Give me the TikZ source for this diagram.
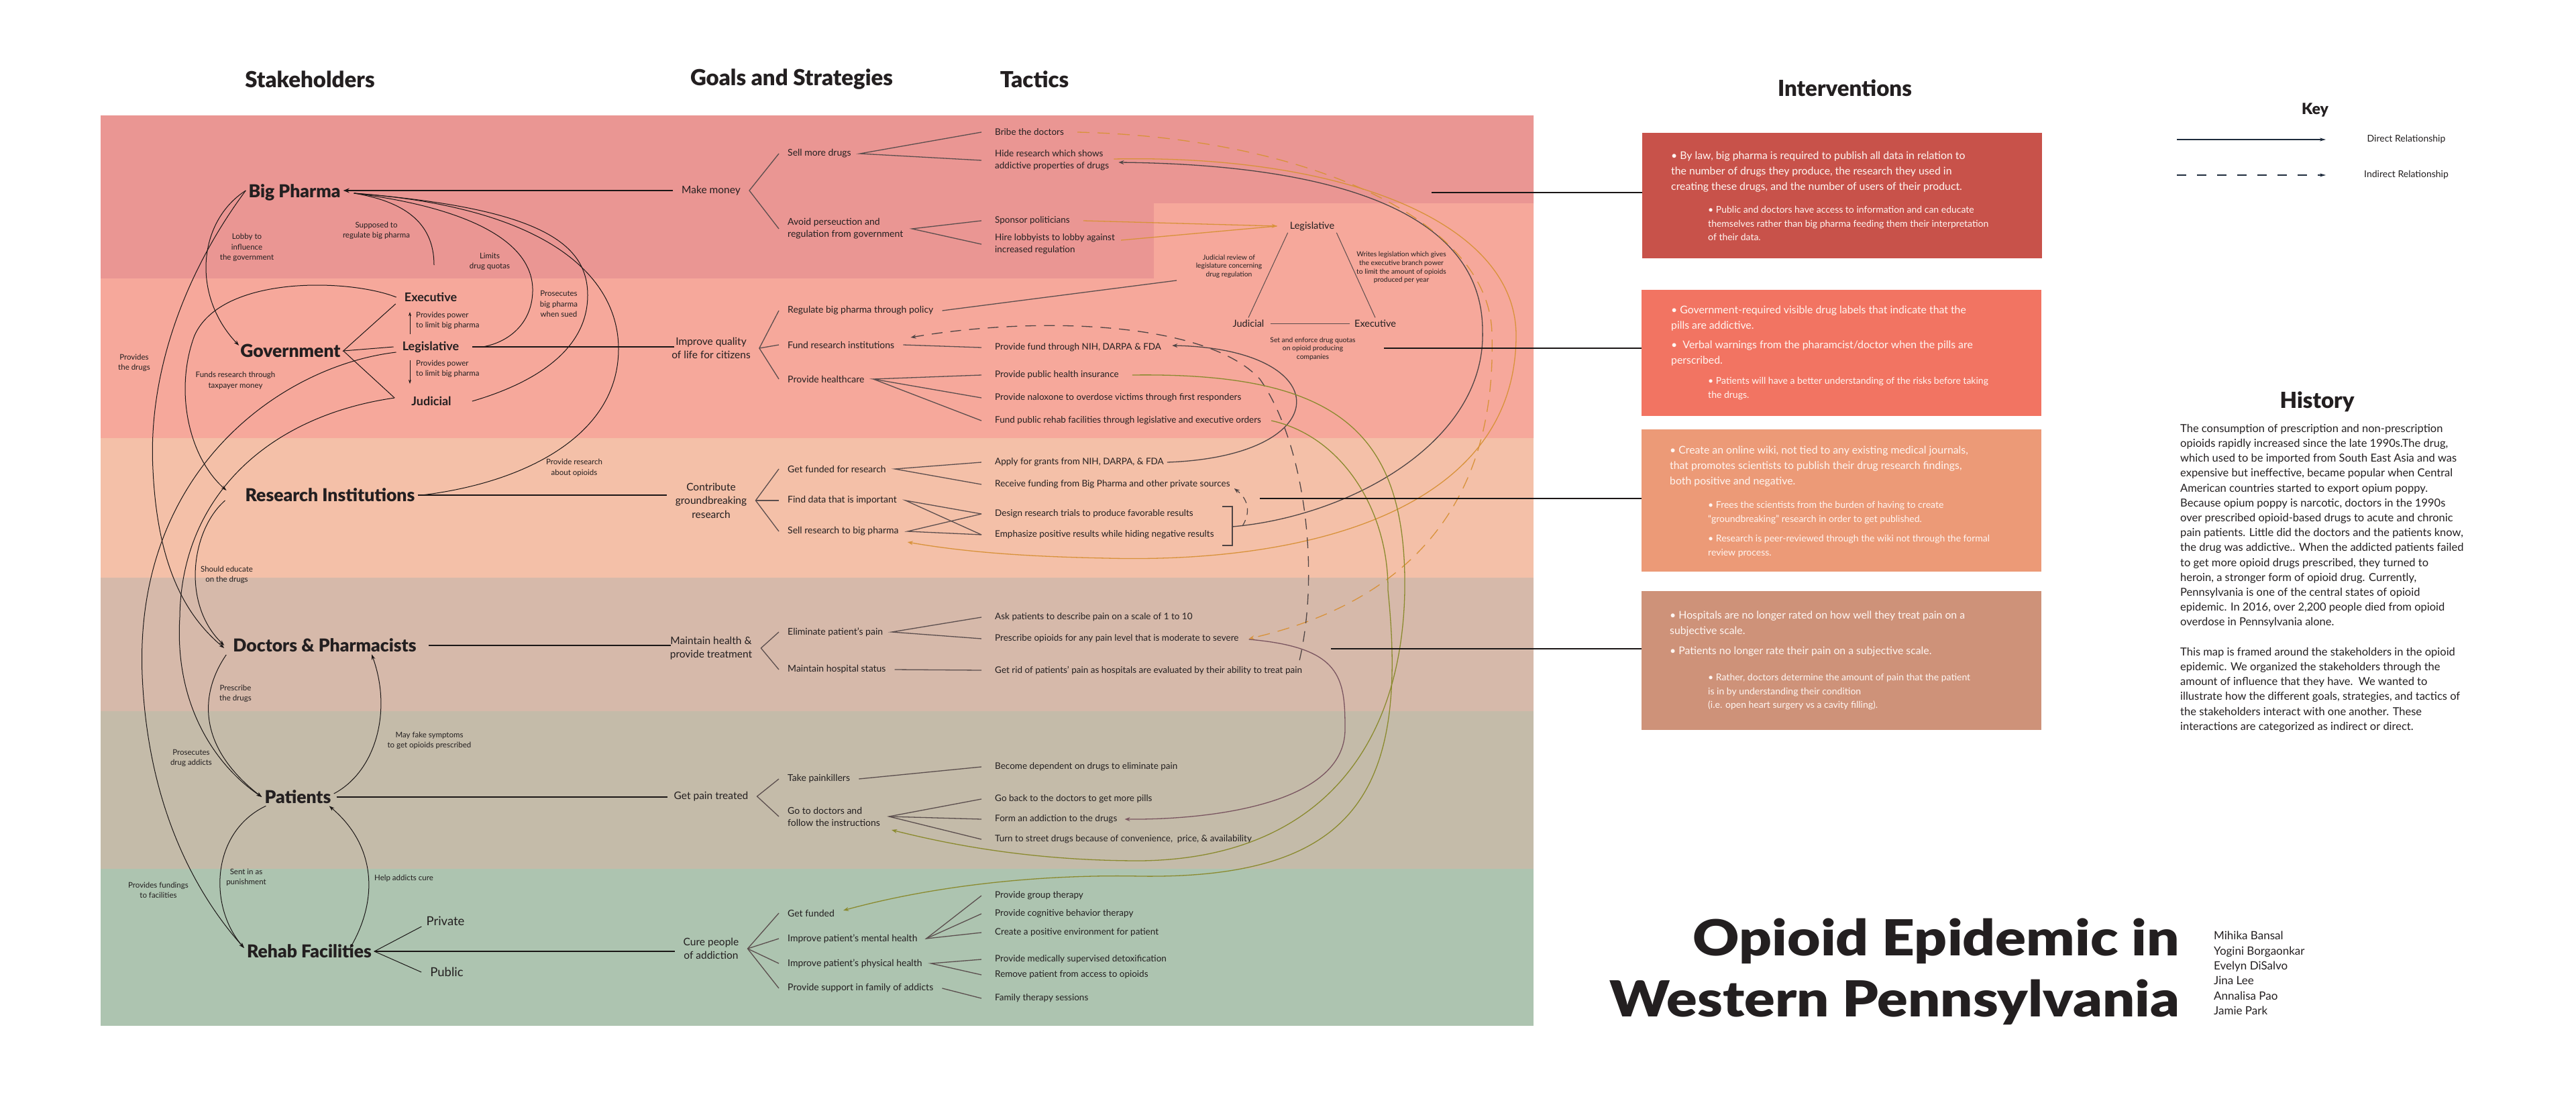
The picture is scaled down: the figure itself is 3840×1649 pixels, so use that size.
\documentclass[tikz,border=0pt]{standalone}
\usepackage{graphicx}
\usepackage{fontspec}
\setmainfont{Lato}
\IfFontExistsTF{Lato Black}{\newfontfamily\blackfont{Lato Black}}{\newcommand\blackfont{\bfseries}}
\usetikzlibrary{arrows.meta}
\definecolor{bandA}{HTML}{EA9693}
\definecolor{bandB}{HTML}{F6A89B}
\definecolor{bandC}{HTML}{F4C0A8}
\definecolor{bandD}{HTML}{D6B9AA}
\definecolor{bandE}{HTML}{C4BBA9}
\definecolor{bandF}{HTML}{ADC4B0}
\definecolor{boxA}{HTML}{C8524A}
\definecolor{boxB}{HTML}{F27462}
\definecolor{boxC}{HTML}{EC9A77}
\definecolor{boxD}{HTML}{CE9279}
\definecolor{txt}{HTML}{231F20}
\definecolor{fanc}{HTML}{5B4E4E}
\definecolor{relc}{HTML}{1A1616}
\definecolor{orangec}{HTML}{D8923A}
\definecolor{olivec}{HTML}{8A8A2E}
\definecolor{mauvec}{HTML}{7A5560}
\definecolor{grayc}{HTML}{4F4545}
\definecolor{navyc}{HTML}{1E2B3C}
\definecolor{boxtxt}{HTML}{FFF6F2}
\begin{document}
\begin{tikzpicture}[x=1pt,y=-1pt,
  every node/.style={text=txt, inner sep=0pt},
  hdr/.style={font=\blackfont\fontsize{33}{38}\selectfont},
  sh/.style={font=\blackfont\fontsize{26.5}{30}\selectfont, inner xsep=4pt, inner ysep=3pt},
  shsub/.style={font=\bfseries\fontsize{18}{21}\selectfont, inner sep=3pt},
  shopt/.style={font=\fontsize{18.5}{21}\selectfont, inner sep=3pt},
  goal/.style={font=\fontsize{15.5}{20.5}\selectfont, align=center, inner xsep=13pt},
  strat/.style={font=\fontsize{14}{17.8}\selectfont, align=left, anchor=west, inner xsep=13pt},
  tac/.style={font=\fontsize{13.5}{18}\selectfont, align=left, anchor=west, inner xsep=20pt},
  lbl/.style={font=\fontsize{11.5}{15.5}\selectfont, align=center},
  tri/.style={font=\fontsize{14.5}{17}\selectfont, inner sep=3pt},
  tlbl/.style={font=\fontsize{10.3}{12.7}\selectfont, align=center},
  ivmain/.style={font=\fontsize{15.8}{23}\selectfont, align=left, anchor=north west, text=boxtxt},
  ivsub/.style={font=\fontsize{14}{20.5}\selectfont, align=left, anchor=north west, text=boxtxt},
  ivbox/.style={minimum width=596pt, inner sep=0pt},
  keyl/.style={font=\fontsize{14}{16}\selectfont},
  titl/.style={anchor=east, font=\blackfont\fontsize{74}{80}\selectfont},
  fan/.style={draw=fanc, line width=1.3pt},
  rel/.style={draw=relc, line width=1pt},
  relarr/.style={rel, -{Stealth[length=8pt,width=5.5pt]}},
  smallarr/.style={rel, -{Stealth[length=6pt,width=4pt]}},
  sgl/.style={draw=relc, line width=2.4pt},
  arrtip/.style={-{Stealth[length=9pt,width=7pt]}},
  arrtipS/.style={-{Stealth[length=8pt,width=6pt]}},
  cline/.style={line width=1.3pt},
]
\path[use as bounding box] (0,0) rectangle (3840,1649);
\fill[white] (0,0) rectangle (3840,1649);

% bands
\fill[bandA] (150,172) -- (2286,172) -- (2286,303) -- (1720,303) -- (1720,415) -- (150,415) -- cycle;
\fill[bandB] (150,415) -- (1720,415) -- (1720,303) -- (2286,303) -- (2286,653) -- (150,653) -- cycle;
\fill[bandC] (150,653) rectangle (2286,861);
\fill[bandD] (150,861) rectangle (2286,1060);
\fill[bandE] (150,1060) rectangle (2286,1295);
\fill[bandF] (150,1295) rectangle (2286,1529);

% headers
\node[hdr] (hS) at (462,118) {Stakeholders};
\node[hdr] (hG) at (1180,118) {Goals and Strategies};
\node[hdr] (hT) at (1542,118) {Tactics};
\node[hdr] (hI) at (2750,131) {Interventions};
\node[hdr, font=\blackfont\fontsize{23}{26}\selectfont] (hK) at (3451,164) {Key};
\node[hdr] (hH) at (3454,599) {History};

% stakeholders
\node[sh] (bp) at (439,287) {Big Pharma};
\node[sh] (gov) at (433,523) {Government};
\node[shsub] (exe) at (642,443) {Executive};
\node[shsub] (leg) at (642,517) {Legislative};
\node[shsub] (jud) at (643,598) {Judicial};
\node[sh] (ri) at (492,738) {Research Institutions};
\node[sh] (dp) at (484,962) {Doctors \& Pharmacists};
\node[sh] (pat) at (444,1188) {Patients};
\node[sh] (rehab) at (461,1418) {Rehab Facilities};
\node[shopt] (priv) at (664,1373) {Private};
\node[shopt] (pub) at (666,1449) {Public};

% goals
\node[goal] (mm) at (1060,284) {Make money};
\node[goal] (iq) at (1060,519) {Improve quality\\of life for citizens};
\node[goal] (cg) at (1060,746) {Contribute\\groundbreaking\\research};
\node[goal] (mh) at (1060,966) {Maintain health \&\\provide treatment};
\node[goal] (gp) at (1060,1187) {Get pain treated};
\node[goal] (cp) at (1060,1414) {Cure people\\of addiction};

% strategies
\node[strat] (sSell) at (1161,229) {Sell more drugs};
\node[strat] (sAvoid) at (1161,341) {Avoid perseuction and\\regulation from government};
\node[strat] (sReg) at (1161,463) {Regulate big pharma through policy};
\node[strat] (sFund) at (1161,514) {Fund research institutions};
\node[strat] (sHC) at (1161,565) {Provide healthcare};
\node[strat] (sGetF) at (1161,699) {Get funded for research};
\node[strat] (sFind) at (1161,746) {Find data that is important};
\node[strat] (sSellR) at (1161,792) {Sell research to big pharma};
\node[strat] (sElim) at (1161,942) {Eliminate patient’s pain};
\node[strat] (sHosp) at (1161,998) {Maintain hospital status};
\node[strat] (sTake) at (1161,1161) {Take painkillers};
\node[strat] (sGo) at (1161,1217) {Go to doctors and\\follow the instructions};
\node[strat] (sFunded) at (1161,1361) {Get funded};
\node[strat] (sMental) at (1161,1399) {Improve patient’s mental health};
\node[strat] (sPhys) at (1161,1436) {Improve patient’s physical health};
\node[strat] (sFam) at (1161,1473) {Provide support in family of addicts};

% tactics
\node[tac] (tBribe) at (1463,197) {Bribe the doctors};
\node[tac] (tHide) at (1463,239) {Hide research which shows\\addictive properties of drugs};
\node[tac] (tSpons) at (1463,329) {Sponsor politicians};
\node[tac] (tHire) at (1463,364) {Hire lobbyists to lobby against\\increased regulation};
\node[tac] (tNIH) at (1463,518) {Provide fund through NIH, DARPA \& FDA};
\node[tac] (tIns) at (1463,559) {Provide public health insurance};
\node[tac] (tNal) at (1463,593) {Provide naloxone to overdose victims through first responders};
\node[tac] (tRehF) at (1463,627) {Fund public rehab facilities through legislative and executive orders};
\node[tac] (tApply) at (1463,689) {Apply for grants from NIH, DARPA, \& FDA};
\node[tac] (tRecv) at (1463,722) {Receive funding from Big Pharma and other private sources};
\node[tac] (tDesign) at (1463,766) {Design research trials to produce favorable results};
\node[tac] (tEmph) at (1463,797) {Emphasize positive results while hiding negative results};
\node[tac] (tAsk) at (1463,920) {Ask patients to describe pain on a scale of 1 to 10};
\node[tac] (tPresc) at (1463,952) {Prescribe opioids for any pain level that is moderate to severe};
\node[tac] (tRid) at (1463,999) {Get rid of patients’ pain as hospitals are evaluated by their ability to treat pain};
\node[tac] (tDep) at (1463,1143) {Become dependent on drugs to eliminate pain};
\node[tac] (tBack) at (1463,1191) {Go back to the doctors to get more pills};
\node[tac] (tForm) at (1463,1221) {Form an addiction to the drugs};
\node[tac] (tStreet) at (1463,1251) {Turn to street drugs because of convenience,\ \ price, \& availability};
\node[tac] (tGroup) at (1463,1335) {Provide group therapy};
\node[tac] (tCBT) at (1463,1362) {Provide cognitive behavior therapy};
\node[tac] (tEnv) at (1463,1390) {Create a positive environment for patient};
\node[tac] (tDetox) at (1463,1430) {Provide medically supervised detoxification};
\node[tac] (tRemove) at (1463,1453) {Remove patient from access to opioids};
\node[tac] (tFamT) at (1463,1488) {Family therapy sessions};

% fans
\draw[fan] (sSell.west) -- (mm.east) -- (sAvoid.west);
\draw[fan] (tBribe.west) -- (sSell.east) -- (tHide.west);
\draw[fan] (tSpons.west) -- (sAvoid.east) -- (tHire.west);
\draw[fan] (sReg.west) -- (iq.east) -- (sHC.west);
\draw[fan] (iq.east) -- (sFund.west);
\draw[fan] (sFund.east) -- (tNIH.west);
\draw[fan] (tIns.west) -- (sHC.east) -- (tNal.west);
\draw[fan] (sHC.east) -- (tRehF.west);
\draw[fan] (sGetF.west) -- (cg.east) -- (sSellR.west);
\draw[fan] (cg.east) -- (sFind.west);
\draw[fan] (tApply.west) -- (sGetF.east) -- (tRecv.west);
\draw[fan] (tDesign.west) -- (sFind.east) -- (tEmph.west);
\draw[fan] (tDesign.west) -- (sSellR.east) -- (tEmph.west);
\draw[fan] (sElim.west) -- (mh.east) -- (sHosp.west);
\draw[fan] (tAsk.west) -- (sElim.east) -- (tPresc.west);
\draw[fan] (sHosp.east) -- (tRid.west);
\draw[fan] (sTake.west) -- (gp.east) -- (sGo.west);
\draw[fan] (sTake.east) -- (tDep.west);
\draw[fan] (tBack.west) -- (sGo.east) -- (tStreet.west);
\draw[fan] (sGo.east) -- (tForm.west);
\draw[fan] (sFunded.west) -- (cp.east) -- (sFam.west);
\draw[fan] (cp.east) -- (sMental.west);
\draw[fan] (cp.east) -- (sPhys.west);
\draw[fan] (tGroup.west) -- (sMental.east) -- (tEnv.west);
\draw[fan] (sMental.east) -- (tCBT.west);
\draw[fan] (tDetox.west) -- (sPhys.east) -- (tRemove.west);
\draw[fan] (sFam.east) -- (tFamT.west);

% stakeholder to goal lines
\draw[sgl, arrtip] (mm.west) -- (mm.west -| bp.east);
\draw[sgl] ([xshift=17pt]leg.east) -- ([xshift=17pt]leg.east -| iq.west);
\draw[sgl] (ri.east) -- (ri.east -| cg.west);
\draw[sgl] ([xshift=14pt]dp.east) -- ([xshift=14pt]dp.east -| mh.west);
\draw[sgl] ([xshift=4pt]pat.east) -- ([xshift=4pt]pat.east -| gp.west);
\draw[sgl] (rehab.east) -- (rehab.east -| cp.west);

% government chevron and rehab chevron
\draw[rel] ([xshift=-10pt]exe.south west) -- (gov.east) -- ([xshift=-10pt]leg.west);
\draw[rel] (gov.east) -- ([xshift=-22pt,yshift=-5pt]jud.north west);
\draw[rel] ([xshift=-4pt,yshift=-8pt]priv.west) -- (rehab.east) -- ([xshift=-10pt]pub.west);
\draw[smallarr] ([xshift=-31pt,yshift=7pt]leg.north) -- ([xshift=-31pt,yshift=-12pt]exe.south);
\draw[smallarr] ([xshift=-31pt,yshift=-8pt]leg.south) -- ([xshift=-32pt,yshift=16pt]jud.north);

% stakeholder relations
\coordinate (bpR) at ([xshift=16pt,yshift=-1pt]bp.east);
\coordinate (bpL) at ([yshift=3pt]bp.west);
\coordinate (supEnd) at (647,395);
\draw[rel] (bpR) .. controls (600,300) and (647,330) .. (supEnd);
\draw[rel] (bpR) .. controls (700,310) and (792,360) .. (794,430) .. controls (795,480) and (760,510) .. ([xshift=32pt]leg.east);
\draw[rel] (bpR) .. controls (800,310) and (876,360) .. (876,440) .. controls (876,520) and (800,570) .. ([xshift=28pt]jud.east);
\draw[rel] (bpR) .. controls (830,310) and (922,420) .. (922,520) .. controls (922,650) and (780,720) .. ([xshift=6pt]ri.east);
\draw[relarr] (bpL) .. controls (295,330) and (285,440) .. ([xshift=2pt,yshift=-5pt]gov.north west);
\draw[relarr] (bpL) .. controls (280,400) and (220,550) .. (228,700) .. controls (235,850) and (280,920) .. ([xshift=-9pt,yshift=-4pt]dp.west);
\draw[relarr] ([xshift=-9pt]exe.west) .. controls (520,415) and (330,410) .. (290,500) .. controls (260,580) and (280,680) .. ([xshift=-24pt,yshift=7pt]ri.west);
\draw[relarr] ([xshift=-6pt,yshift=-8pt]leg.west) .. controls (420,545) and (200,700) .. (212,1006) .. controls (220,1200) and (290,1330) .. ([yshift=5pt]rehab.west);
\draw[relarr] ([xshift=-22pt,yshift=-5pt]jud.north west) .. controls (400,620) and (270,740) .. (268,920) .. controls (260,1050) and (320,1140) .. (pat.west);
\draw[relarr] ([xshift=-26pt,yshift=-8pt]ri.west) .. controls (285,790) and (270,900) .. ([xshift=-9pt]dp.west);
\draw[relarr] ([xshift=-6pt,yshift=-14pt]dp.west) .. controls (300,1030) and (290,1110) .. (pat.west);
\draw[relarr] ([yshift=5pt]pat.east) .. controls (560,1150) and (585,1060) .. ([xshift=70pt]dp.south);
\draw[relarr] ([xshift=6pt]pat.south west) .. controls (315,1240) and (310,1350) .. ([yshift=5pt]rehab.west);
\draw[relarr] ([xshift=-36pt,yshift=-8pt]rehab.north east) .. controls (565,1340) and (560,1260) .. ([xshift=-7pt]pat.south east);

% stakeholder labels
\node[lbl] (lLobby) at (368,369) {Lobby to\\influence\\the government};
\node[lbl] (lSup) at (561,344) {Supposed to\\regulate big pharma};
\node[lbl] (lLim) at (730,390) {Limits\\drug quotas};
\node[lbl] (lPros) at (833,453) {Prosecutes\\big pharma\\when sued};
\node[lbl, anchor=west, align=left] (lPow1) at (620,478) {Provides power\\to limit big pharma};
\node[lbl, anchor=west, align=left] (lPow2) at (620,550) {Provides power\\to limit big pharma};
\node[lbl] (lDrugs) at (200,541) {Provides\\the drugs};
\node[lbl] (lFunds) at (351,567) {Funds research through\\taxpayer money};
\node[lbl] (lProvR) at (856,697) {Provide research\\about opioids};
\node[lbl] (lEdu) at (338,857) {Should educate\\on the drugs};
\node[lbl] (lPresc) at (351,1034) {Prescribe\\the drugs};
\node[lbl] (lFake) at (640,1104) {May fake symptoms\\to get opioids prescribed};
\node[lbl] (lProsA) at (285,1130) {Prosecutes\\drug addicts};
\node[lbl] (lSent) at (367,1308) {Sent in as\\punishment};
\node[lbl] (lHelp) at (602,1309) {Help addicts cure};
\node[lbl] (lFundF) at (236,1327) {Provides fundings\\to facilities};

% branch triangle
\node[tri] (L2) at (1956,337) {Legislative};
\node[tri] (J2) at (1861,482) {Judicial};
\node[tri] (E2) at (2050,482) {Executive};
\draw[fan, line width=1pt] (L2.south west) -- (J2.north);
\draw[fan, line width=1pt] (L2.south east) -- (E2.north);
\draw[fan, line width=1pt] ([xshift=6pt]J2.east) -- ([xshift=-4pt]E2.west);
\node[tlbl] (lRev) at (1832,397) {Judicial review of\\legislature concerning\\drug regulation};
\node[tlbl] (lWri) at (2089,399) {Writes legislation which gives\\the executive branch power\\to limit the amount of opioids\\produced per year};
\node[tlbl] (lSet) at (1957,520) {Set and enforce drug quotas\\on opioid producing\\companies};

% tactic connectors
\coordinate (regEnd) at (1754,418);
\draw[fan] (sReg.east) -- (regEnd);
\draw[orangec, cline, arrtipS] (tSpons.east) -- ([xshift=-16pt]L2.west);
\draw[orangec, cline] ([xshift=-11pt,yshift=6pt]tHire.east) -- ([xshift=-16pt]L2.west);
\draw[grayc, line width=1.2pt] (1822,755) -- (1837,755) -- (1837,813) -- (1822,813);
\coordinate (brk) at (1837,785);
\coordinate (brkB) at (1852,784);
\draw[grayc, cline, arrtipS] (brk) .. controls (2010,770) and (2215,660) .. (2210,493) .. controls (2210,300) and (1950,245) .. ([xshift=-6pt,yshift=-3pt]tHide.east);
\draw[orangec, cline, arrtipS] ([xshift=-13pt,yshift=2pt]tHide.east) .. controls (2000,230) and (2260,330) .. (2260,500) .. controls (2260,760) and (1950,840) .. (1650,832) .. controls (1550,830) and (1450,825) .. ([yshift=-16pt]sSellR.east);
\draw[orangec, cline, dash pattern=on 18pt off 12pt, arrtipS] (tBribe.east) .. controls (1950,205) and (2224,330) .. (2224,500) .. controls (2230,720) and (2130,890) .. ([xshift=-5pt]tPresc.east);
\draw[mauvec, cline, arrtipS] ([xshift=-5pt,yshift=-1pt]tPresc.east) .. controls (2000,965) and (2005,1010) .. (2005,1087) .. controls (2005,1200) and (1800,1222) .. ([xshift=-9pt]tForm.east);
\draw[grayc, cline, arrtipS] ([xshift=-15pt]tApply.east) .. controls (1995,680) and (1995,520) .. ([xshift=-4pt,yshift=3pt]tNIH.east);
\draw[grayc, cline, dash pattern=on 16pt off 12pt, arrtipS] ([xshift=-24pt,yshift=15pt]tRid.east) .. controls (1968,850) and (1945,660) .. (1878,565) .. controls (1800,480) and (1550,470) .. ([xshift=11pt,yshift=11pt]sFund.east);
\draw[grayc, line width=1.2pt, dash pattern=on 10pt off 8pt, arrtipS] (brkB) .. controls (1864,765) and (1862,745) .. ([xshift=-14pt,yshift=-6pt]tRecv.east);
\draw[olivec, cline, arrtipS] (tIns.east) .. controls (1990,555) and (2097,640) .. (2094,880) .. controls (2090,1120) and (1960,1280) .. (1700,1283) .. controls (1560,1283) and (1440,1265) .. ([xshift=4pt,yshift=-20pt]sGo.east);
\draw[olivec, cline, arrtipS] ([xshift=-5pt]tRehF.east) .. controls (2000,650) and (2070,760) .. (2069,880) .. controls (2100,1180) and (2020,1310) .. (1700,1306) .. controls (1560,1303) and (1400,1318) .. ([yshift=4pt]sFunded.east);

% interventions
\node[ivbox, fill=boxA, minimum height=187pt] (b1) at (2746,291.5) {};
\node[ivbox, fill=boxB, minimum height=188pt] (b2) at (2745,526) {};
\node[ivbox, fill=boxC, minimum height=212pt] (b3) at (2745,746) {};
\node[ivbox, fill=boxD, minimum height=207pt] (b4) at (2745,984.5) {};
\coordinate (i1) at (2134,287);
\coordinate (i2) at (2063,519);
\coordinate (i3) at (1878,743);
\coordinate (i4) at (1984,967);
\draw[sgl, line width=2.2pt] (i1) -- (i1 -| b1.west);
\draw[sgl, line width=2.2pt] (i2) -- (i2 -| b2.west);
\draw[sgl, line width=2.2pt] (i3) -- (i3 -| b3.west);
\draw[sgl, line width=2.2pt] (i4) -- (i4 -| b4.west);

\node[ivmain] (b1m) at (2491,225.6) {• By law, big pharma is required to publish all data in relation to\\the number of drugs they produce, the research they used in\\creating these drugs, and the number of users of their product.};
\node[ivsub] (b1s) at (2546,307.3) {• Public and doctors have access to information and can educate\\themselves rather than big pharma feeding them their interpretation\\of their data.};
\node[ivmain] (b2a) at (2491,455.6) {• Government-required visible drug labels that indicate that the\\pills are addictive.};
\node[ivmain] (b2b) at (2491,507.6) {•\ \ Verbal warnings from the pharamcist/doctor when the pills are\\perscribed.};
\node[ivsub] (b2s) at (2546,562.3) {• Patients will have a better understanding of the risks before taking\\the drugs.};
\node[ivmain] (b3m) at (2489,664.6) {• Create an online wiki, not tied to any existing medical journals,\\that promotes scientists to publish their drug research findings,\\both positive and negative.};
\node[ivsub] (b3s1) at (2546,747.3) {• Frees the scientists from the burden of having to create\\“groundbreaking” research in order to get published.};
\node[ivsub] (b3s2) at (2546,797.3) {• Research is peer-reviewed through the wiki not through the formal\\review process.};
\node[ivmain] (b4a) at (2489,910.6) {• Hospitals are no longer rated on how well they treat pain on a\\subjective scale.};
\node[ivmain] (b4b) at (2489,963.6) {• Patients no longer rate their pain on a subjective scale.};
\node[ivsub] (b4s) at (2546,1004.3) {• Rather, doctors determine the amount of pain that the patient\\is in by understanding their condition\\(i.e. open heart surgery vs a cavity filling).};

% key
\coordinate (kA1) at (3245,208);
\coordinate (kA2) at (3467,208);
\coordinate (kB1) at (3245,261);
\coordinate (kB2) at (3467,261);
\draw[navyc, line width=1.3pt, -{Stealth[length=9pt,width=5pt]}] (kA1) -- (kA2);
\draw[navyc, line width=1.3pt, dash pattern=on 14pt off 16pt, -{Stealth[length=9pt,width=5pt]}] (kB1) -- (kB2);
\node[keyl] (kD) at (3587,208) {Direct Relationship};
\node[keyl] (kI) at (3587,261) {Indirect Relationship};

% history
\node[anchor=north west, align=left, font=\fontsize{16.5}{22.2}\selectfont] (hist) at (3250,632) {The consumption of prescription and non-prescription\\opioids rapidly increased since the late 1990s.The drug,\\which used to be imported from South East Asia and was\\expensive but ineffective, became popular when Central\\American countries started to export opium poppy.\\Because opium poppy is narcotic, doctors in the 1990s\\over prescribed opioid-based drugs to acute and chronic\\pain patients. Little did the doctors and the patients know,\\the drug was addictive.. When the addicted patients failed\\to get more opioid drugs prescribed, they turned to\\heroin, a stronger form of opioid drug. Currently,\\Pennsylvania is one of the central states of opioid\\epidemic. In 2016, over 2,200 people died from opioid\\overdose in Pennsylvania alone.\\[22.2pt]This map is framed around the stakeholders in the opioid\\epidemic. We organized the stakeholders through the\\amount of influence that they have.\ \ We wanted to\\illustrate how the different goals, strategies, and tactics of\\the stakeholders interact with one another. These\\interactions are categorized as indirect or direct.};

% title and names
\node[titl] (t1) at (3249,1403) {\resizebox{725pt}{\height}{Opioid Epidemic in}};
\node[titl] (t2) at (3249,1494) {\resizebox{849pt}{\height}{Western Pennsylvania}};
\node[anchor=north west, align=left, font=\fontsize{17}{22.4}\selectfont] (names) at (3300,1388) {Mihika Bansal\\Yogini Borgaonkar\\Evelyn DiSalvo\\Jina Lee\\Annalisa Pao\\Jamie Park};
\end{tikzpicture}
\end{document}
